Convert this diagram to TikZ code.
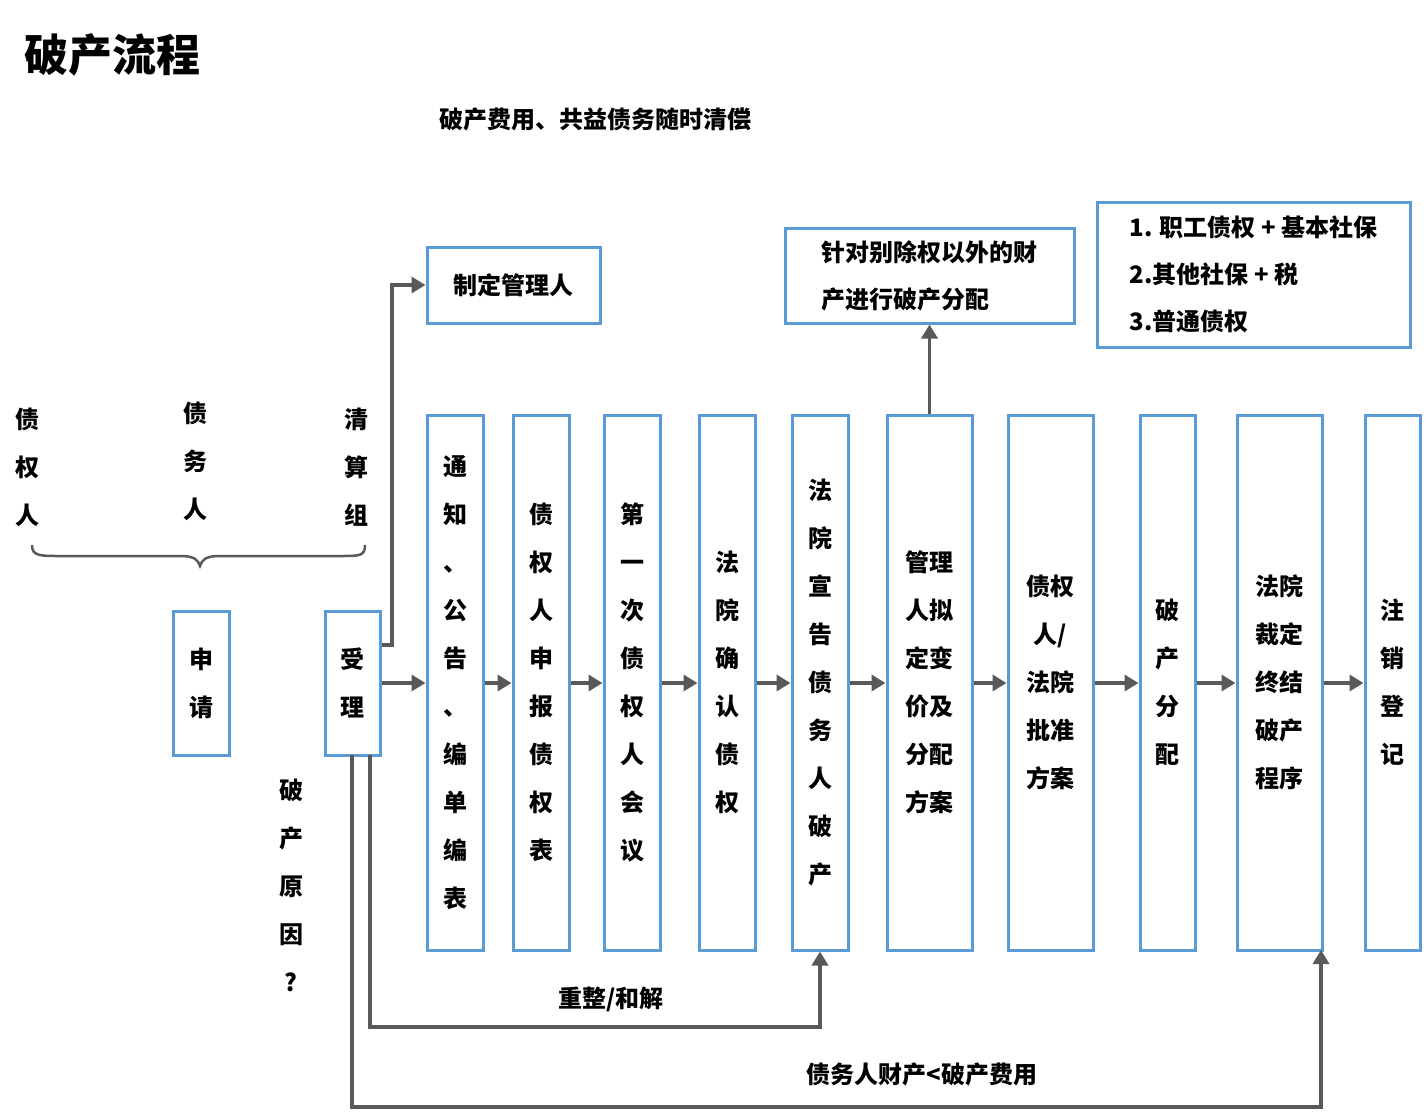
\documentclass[tikz,border=0pt]{standalone}
\usepackage{fontspec}
\setmainfont{Noto Sans CJK SC}
\usetikzlibrary{arrows.meta}
\definecolor{bx}{HTML}{5B9BD5}
\definecolor{ar}{HTML}{595959}
\tikzset{
 bbox/.style={draw=bx,line width=3pt,inner sep=0pt,font=\fontsize{24}{48}\selectfont\bfseries,align=center},
 tall/.style={bbox,minimum height=535pt},
 lab/.style={font=\fontsize{24}{48}\selectfont\bfseries,align=center,inner sep=0pt},
 arr/.style={draw=ar,line width=3.5pt,-{Triangle[length=14pt,width=16pt]}},
 ln/.style={draw=ar,line width=3.5pt}
}
\begin{document}
\begin{tikzpicture}[x=1pt,y=-1pt]
\useasboundingbox (0,0) rectangle (1426,1111);
\node[anchor=west,font=\fontsize{44}{50}\selectfont\bfseries,inner sep=0pt] (title) at (24,55) {破产流程};
\node[lab,font=\fontsize{24}{30}\selectfont\bfseries] (sub) at (595,119) {破产费用、共益债务随时清偿};
\node[lab] (zq) at (27,467) {债\\权\\人};
\node[lab] (zw) at (195,461) {债\\务\\人};
\node[lab] (qs) at (356,467) {清\\算\\组};
\node[lab] (yy) at (291,885) {破\\产\\原\\因\\?};
\draw[ar,line width=2.5pt] (32,545) .. controls (32,556) and (40,556) .. (60,556) -- (180,556) .. controls (195,556) and (198,560) .. (200,566) .. controls (202,560) and (205,556) .. (220,556) -- (340,556) .. controls (360,556) and (365,556) .. (365,545);
\node[bbox,minimum width=56pt,minimum height=144pt] (sq) at (201,683) {申\\请};
\node[bbox,minimum width=55pt,minimum height=144pt] (sl) at (352.5,683) {受\\理};
\node[bbox,minimum width=173pt,minimum height=76pt] (gl) at (513.5,285) {制定管理人};
\node[bbox,minimum width=289pt,minimum height=95pt,align=left,font=\fontsize{24}{47}\selectfont\bfseries] (zd) at (929.5,275.5) {针对别除权以外的财\\产进行破产分配};
\node[bbox,minimum width=313pt,minimum height=145pt,align=left,font=\fontsize{24}{47}\selectfont\bfseries] (lst) at (1253.5,274.5) {1. 职工债权 + 基本社保\\2.其他社保 + 税\\3.普通债权};
\node[tall,minimum width=56pt] (b1) at (455,682.5) {通\\知\\、\\公\\告\\、\\编\\单\\编\\表};
\node[tall,minimum width=56pt] (b2) at (541,682.5) {债\\权\\人\\申\\报\\债\\权\\表};
\node[tall,minimum width=56pt] (b3) at (632,682.5) {第\\一\\次\\债\\权\\人\\会\\议};
\node[tall,minimum width=56pt] (b4) at (727,682.5) {法\\院\\确\\认\\债\\权};
\node[tall,minimum width=56pt] (b5) at (820,682.5) {法\\院\\宣\\告\\债\\务\\人\\破\\产};
\node[tall,minimum width=85pt] (b6) at (929.5,682.5) {管理\\人拟\\定变\\价及\\分配\\方案};
\node[tall,minimum width=85pt] (b7) at (1050.5,682.5) {债权\\人/\\法院\\批准\\方案};
\node[tall,minimum width=55pt] (b8) at (1167.5,682.5) {破\\产\\分\\配};
\node[tall,minimum width=85pt] (b9) at (1279.5,682.5) {法院\\裁定\\终结\\破产\\程序};
\node[tall,minimum width=55pt] (b10) at (1392.5,682.5) {注\\销\\登\\记};
\foreach \a/\b in {sl/b1,b1/b2,b2/b3,b3/b4,b4/b5,b5/b6,b6/b7,b7/b8,b8/b9,b9/b10}
  \draw[arr] (\a.east|-0,683) -- (\b.west|-0,683);
\draw[arr] (b6.north) -- (zd.south);
\draw[arr] (sl.east|-0,645) -- (392,645) -- (392,285) -- (gl.west);
\draw[arr] (370,755) -- (370,1027) -- (820,1027) -- (b5.south);
\draw[arr] (352,755) -- (352,1107) -- (1321,1107) -- (1321,950);
\node[lab,font=\fontsize{24}{30}\selectfont\bfseries] (rz) at (611,999) {重整/和解};
\node[lab,font=\fontsize{24}{30}\selectfont\bfseries] (cc) at (922,1074) {债务人财产<破产费用};
\end{tikzpicture}
\end{document}
